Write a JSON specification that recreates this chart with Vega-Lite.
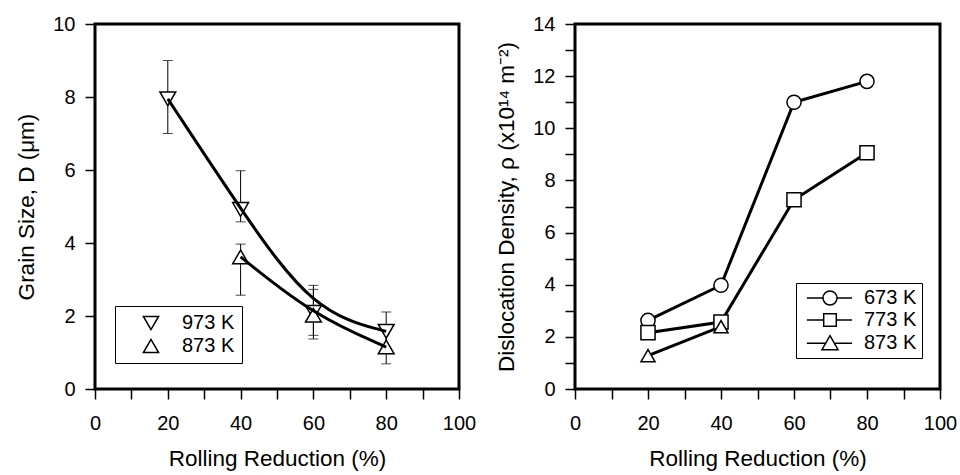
{
  "$schema": "https://vega.github.io/schema/vega-lite/v6.json",
  "background": "white",
  "padding": {"left": 14, "top": 12, "right": 5, "bottom": 2},
  "spacing": 16,
  "resolve": {"scale": {"shape": "independent", "x": "independent", "y": "independent"}, "legend": {"shape": "independent"}},
  "datasets": {
    "grain": [
      {"series": "973 K", "x": 20, "y": 7.95, "lo": 7.0, "hi": 9.0},
      {"series": "973 K", "x": 40, "y": 4.92, "lo": 4.58, "hi": 5.98},
      {"series": "973 K", "x": 60, "y": 2.1, "lo": 1.37, "hi": 2.84},
      {"series": "973 K", "x": 80, "y": 1.58, "lo": 1.07, "hi": 2.11},
      {"series": "873 K", "x": 40, "y": 3.62, "lo": 2.57, "hi": 3.97},
      {"series": "873 K", "x": 60, "y": 2.02, "lo": 1.47, "hi": 2.73},
      {"series": "873 K", "x": 80, "y": 1.15, "lo": 0.69, "hi": 1.61}
    ],
    "disl": [
      {"series": "673 K", "x": 20, "y": 2.63},
      {"series": "673 K", "x": 40, "y": 3.98},
      {"series": "673 K", "x": 60, "y": 11.0},
      {"series": "673 K", "x": 80, "y": 11.8},
      {"series": "773 K", "x": 20, "y": 2.16},
      {"series": "773 K", "x": 40, "y": 2.57},
      {"series": "773 K", "x": 60, "y": 7.26},
      {"series": "773 K", "x": 80, "y": 9.06},
      {"series": "873 K", "x": 20, "y": 1.28},
      {"series": "873 K", "x": 40, "y": 2.39}
    ]
  },
  "hconcat": [
    {
      "width": 364,
      "height": 365,
      "data": {"name": "grain"},
      "encoding": {
        "x": {"field": "x", "type": "quantitative", "title": "Rolling Reduction (%)",
          "scale": {"domain": [0, 100], "nice": false, "zero": false},
          "axis": {"values": [0, 10, 20, 30, 40, 50, 60, 70, 80, 90, 100],
            "labelExpr": "datum.value % 20 === 0 ? datum.label : ''",
            "encode": {"ticks": {"update": {"y2": {"signal": "datum.value % 20 === 0 ? 10 : 5"}}}}}}
      },
      "layer": [
        {
          "mark": {"type": "errorbar", "color": "black", "thickness": 1, "ticks": {"size": 10, "thickness": 1, "color": "black"}},
          "encoding": {
            "y": {"field": "lo", "type": "quantitative", "title": "Grain Size, D (μm)",
              "scale": {"domain": [0, 10], "nice": false},
              "axis": {"values": [0, 1, 2, 3, 4, 5, 6, 7, 8, 9, 10],
                "labelExpr": "datum.value % 2 === 0 ? datum.label : ''",
                "encode": {"ticks": {"update": {"x2": {"signal": "datum.value % 2 === 0 ? -10 : -5"}}}}}},
            "y2": {"field": "hi"}
          }
        },
        {
          "mark": {"type": "point", "filled": true, "fill": "white", "stroke": "black", "strokeWidth": 1.5, "size": 250, "opacity": 1},
          "encoding": {
            "y": {"field": "y", "type": "quantitative", "title": "Grain Size, D (μm)"},
            "shape": {"field": "series", "type": "nominal",
              "scale": {"domain": ["973 K", "873 K"], "range": ["triangle-down", "triangle-up"]},
              "legend": {"orient": "none", "legendX": 20, "legendY": 282, "title": null,
                "strokeColor": "black", "padding": 7, "symbolOffset": 19, "labelOffset": 21,
                "rowPadding": 3, "symbolSize": 230, "labelFontSize": 20,
                "labelFont": "Liberation Sans", "labelColor": "black",
                "encode": {
                  "legend": {"update": {"strokeWidth": {"value": 1.5}}},
                  "symbols": {"update": {
                    "fill": {"value": "white"},
                    "stroke": {"value": "black"},
                    "strokeWidth": {"value": 1.5},
                    "opacity": {"value": 1}
                  }}
                }}}
          }
        },
        {
          "mark": {"type": "line", "interpolate": "basis", "color": "black", "strokeWidth": 3},
          "encoding": {
            "y": {"field": "y", "type": "quantitative", "title": "Grain Size, D (μm)"},
            "detail": {"field": "series"}
          }
        }
      ]
    },
    {
      "width": 365,
      "height": 365,
      "data": {"name": "disl"},
      "resolve": {"scale": {"shape": "independent"}, "legend": {"shape": "independent"}},
      "encoding": {
        "x": {"field": "x", "type": "quantitative", "title": "Rolling Reduction (%)",
          "scale": {"domain": [0, 100], "nice": false, "zero": false},
          "axis": {"values": [0, 10, 20, 30, 40, 50, 60, 70, 80, 90, 100],
            "labelExpr": "datum.value % 20 === 0 ? datum.label : ''",
            "encode": {"ticks": {"update": {"y2": {"signal": "datum.value % 20 === 0 ? 10 : 5"}}}}}},
        "y": {"field": "y", "type": "quantitative", "title": "Dislocation Density, ρ (x10¹⁴ m⁻²)",
          "scale": {"domain": [0, 14], "nice": false},
          "axis": {"values": [0, 1, 2, 3, 4, 5, 6, 7, 8, 9, 10, 11, 12, 13, 14],
            "labelExpr": "datum.value % 2 === 0 ? datum.label : ''",
            "encode": {"ticks": {"update": {"x2": {"signal": "datum.value % 2 === 0 ? -10 : -5"}}}}}}
      },
      "layer": [
        {
          "mark": {"type": "line", "color": "black", "strokeWidth": 3},
          "encoding": {"detail": {"field": "series"}}
        },
        {
          "mark": {"type": "point", "filled": true, "fill": "white", "stroke": "black", "strokeWidth": 1.5, "size": 200, "opacity": 1},
          "encoding": {
            "shape": {"field": "series", "type": "nominal",
              "scale": {"domain": ["673 K", "773 K", "873 K"], "range": ["circle", "square", "triangle-up"]},
              "legend": null}
          }
        },
        {
          "mark": {"type": "point", "filled": true, "fill": "white", "stroke": "black", "strokeWidth": 2, "size": 196, "opacity": 0},
          "encoding": {
            "shape": {"field": "series", "type": "nominal",
              "scale": {"domain": ["673 K", "773 K", "873 K"], "range": [
                "M-3.3,0L-1,0M1,0L3.15,0M1,0A1,1 0 1,1 -1,0A1,1 0 1,1 1,0Z",
                "M-3.3,0L-0.9,0M0.9,0L3.15,0M-0.9,-0.9L0.9,-0.9L0.9,0.9L-0.9,0.9Z",
                "M-3.3,0.05L-0.6,0.05M0.6,0.05L3.15,0.05M0,-1.05L1.15,0.95L-1.15,0.95Z"]},
              "legend": {"orient": "none", "legendX": 221, "legendY": 259, "title": null,
                "strokeColor": "black", "padding": 5, "symbolOffset": 19, "labelOffset": 24,
                "rowPadding": 2, "symbolSize": 196, "labelFontSize": 20, "symbolOpacity": 1,
                "labelFont": "Liberation Sans", "labelColor": "black",
                "encode": {
                  "legend": {"update": {"strokeWidth": {"value": 1.5}}},
                  "symbols": {"update": {
                    "fill": {"value": "white"},
                    "stroke": {"value": "black"},
                    "opacity": {"value": 1},
                    "strokeWidth": {"value": 2}
                  }}
                }}}
          }
        }
      ]
    }
  ],
  "config": {
    "font": "Liberation Sans",
    "view": {"stroke": "black", "strokeWidth": 3},
    "axis": {
      "domain": false,
      "grid": false,
      "tickColor": "black",
      "tickWidth": 1.5,
      "tickSize": 10,
      "labelFont": "Liberation Sans",
      "labelFontSize": 20,
      "labelColor": "black",
      "titleFont": "Liberation Sans",
      "titleFontSize": 22.5,
      "titleFontWeight": "normal",
      "titleColor": "black",
      "labelFlush": false,
      "labelOverlap": false
    },
    "axisX": {"labelPadding": 14, "titlePadding": 14},
    "axisY": {"labelPadding": 10, "titlePadding": 14}
  }
}
